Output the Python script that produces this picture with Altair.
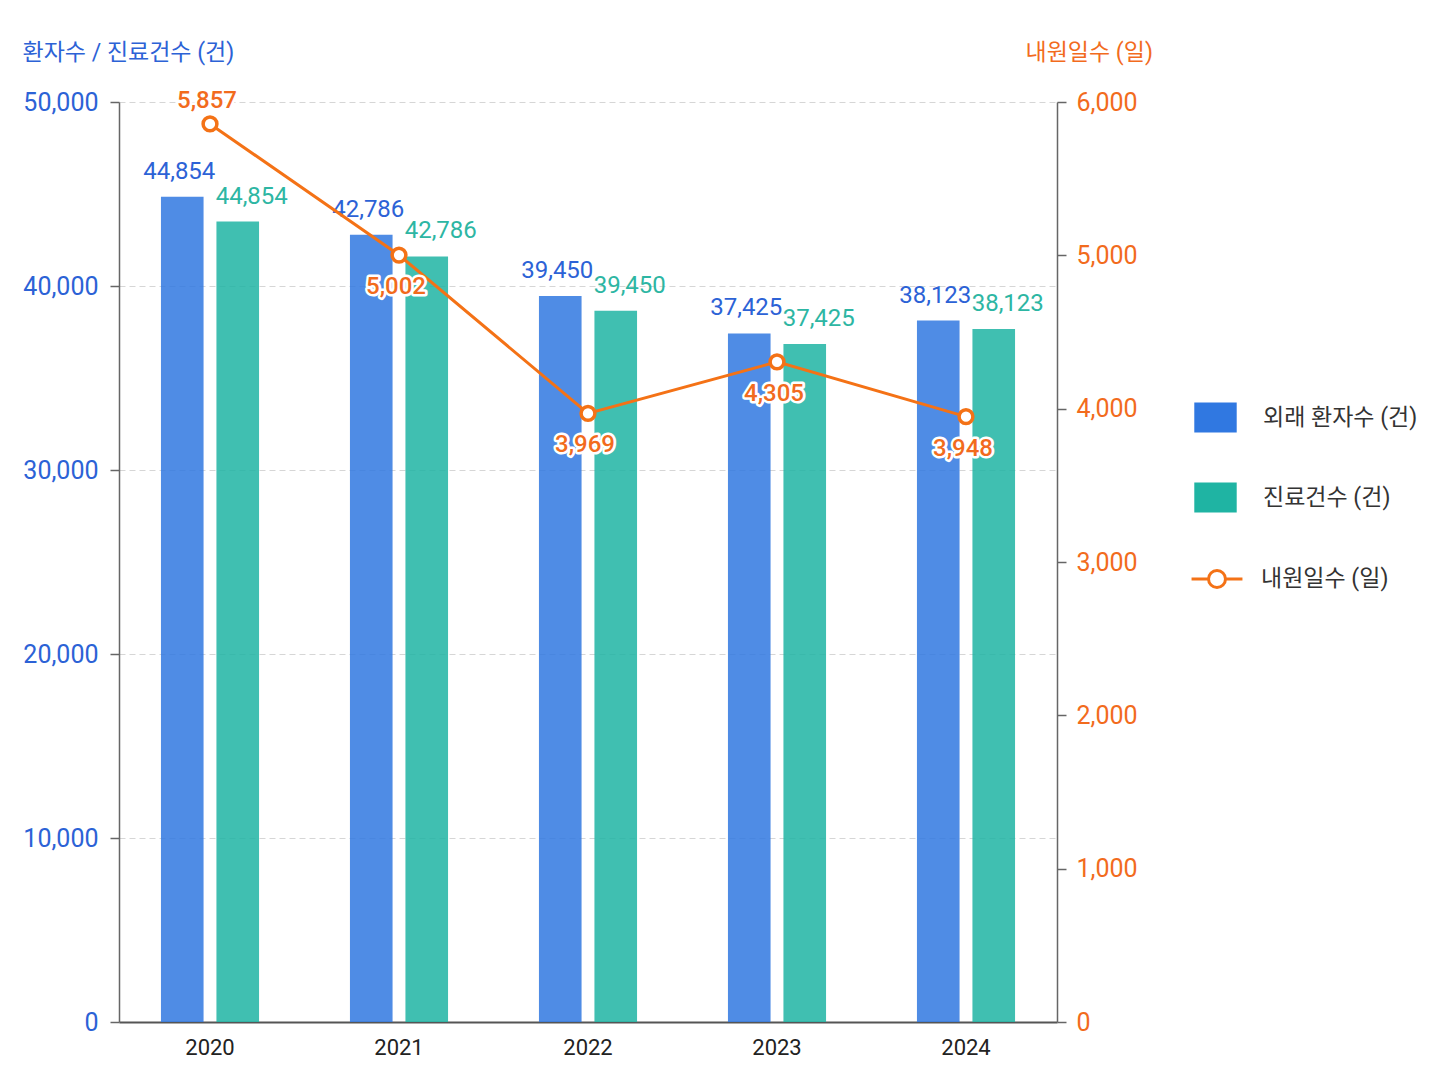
import altair as alt
import pandas as pd

# ---- data ----
years = ["2020", "2021", "2022", "2023", "2024"]
patients = [44854, 42786, 39450, 37425, 38123]          # 외래 환자수 (bar heights = labels)
treat_bar = [43500, 41610, 38660, 36850, 37660]         # 진료건수 bar heights as drawn
treat_label = [44854, 42786, 39450, 37425, 38123]       # 진료건수 labels as printed
visits = [5857, 5002, 3969, 4305, 3948]                 # 내원일수 (일)

S1 = "외래 환자수 (건)"
S2 = "진료건수 (건)"
S3 = "내원일수 (일)"
left_ticks = [0, 10000, 20000, 30000, 40000, 50000]
right_ticks = [0, 1000, 2000, 3000, 4000, 5000, 6000]

bars_df = pd.DataFrame({
    "year": years * 2,
    "series": [S1] * 5 + [S2] * 5,
    "value": patients + treat_bar,
    "label": patients + treat_label,
})
line_df = pd.DataFrame({"year": years, "series": [S3] * 5, "value": visits})

BLUE = "#3078E1"
TEAL = "#1FB4A3"
ORANGE = "#F47216"
BLUE_TXT = "#2C62D6"
TEAL_TXT = "#2DB6A3"
ORANGE_TXT = "#F26B1D"

FONT = "Roboto, 'Noto Sans CJK KR', sans-serif"

RECT_PATH = "M-1,-0.71L1,-0.71L1,0.71L-1,0.71Z"
LINE_PATH = "M-1.2,0L-0.4,0M0.4,0L1.2,0M0.4,0A0.4,0.4,0,1,1,-0.4,0A0.4,0.4,0,1,1,0.4,0Z"

color = alt.Color(
    "series:N",
    scale=alt.Scale(domain=[S1, S2], range=[BLUE, TEAL]),
    legend=alt.Legend(
        title=None, orient="none", legendX=1075, legendY=294, padding=0,
        symbolType=RECT_PATH, symbolSize=1800, symbolStrokeWidth=0, symbolOpacity=1,
        rowPadding=43, labelFontSize=23, labelColor="#333333",
        labelOffset=26, labelLimit=300, labelFont=FONT,
    ),
)
stroke = alt.Stroke(
    "series:N",
    scale=alt.Scale(domain=[S3], range=[ORANGE]),
    legend=alt.Legend(
        title=None, orient="none", legendX=1075, legendY=454, padding=0,
        symbolType=LINE_PATH, symbolSize=1800, symbolStrokeWidth=3,
        symbolFillColor="white", symbolOpacity=1,
        labelFontSize=23, labelColor="#333333",
        labelOffset=21, labelLimit=300, labelFont=FONT,
    ),
)

x = alt.X(
    "year:N",
    scale=alt.Scale(paddingInner=0.481, paddingOuter=0.222),
    axis=alt.Axis(title=None, labelAngle=0, ticks=False, labelFontSize=22,
                  labelColor="#222222", labelPadding=15, domainColor="#555555",
                  domainWidth=2, grid=False),
)
x_off = alt.XOffset("series:N", scale=alt.Scale(domain=[S1, S2], paddingInner=0.232, paddingOuter=0))

y_left = alt.Y(
    "value:Q",
    scale=alt.Scale(domain=[0, 50000], nice=False),
    axis=alt.Axis(
        values=left_ticks, format=",d", title="환자수 / 진료건수 (건)",
        titleAngle=0, titleAlign="left", titleBaseline="middle", titleX=-97, titleY=-50,
        titleFontSize=23, titleFontWeight="normal", titleColor=BLUE_TXT,
        labelColor=BLUE_TXT, labelFontSize=25, labelPadding=12,
        tickSize=9, tickColor="#666666", tickWidth=1.5, domainColor="#666666", domainWidth=1.5,
        grid=True, gridColor="#d6d6d6", gridDash=[6, 4], gridWidth=1,
    ),
)

base_bar = alt.Chart(bars_df)
bars = base_bar.mark_bar(fillOpacity=0.85).encode(x=x, xOffset=x_off, y=y_left, color=color)
blue_labels = base_bar.transform_filter(alt.datum.series == S1).mark_text(
    baseline="alphabetic", dy=-18, dx=-3, fontSize=24, color=BLUE_TXT
).encode(x=x, xOffset=x_off, y="value:Q", text=alt.Text("label:Q", format=",d"))
teal_labels = base_bar.transform_filter(alt.datum.series == S2).mark_text(
    baseline="alphabetic", dy=-18, dx=14, fontSize=24, color=TEAL_TXT
).encode(x=x, xOffset=x_off, y="value:Q", text=alt.Text("label:Q", format=",d"))

bar_layer = alt.layer(bars, blue_labels, teal_labels)

y_right = alt.Y(
    "value:Q",
    scale=alt.Scale(domain=[0, 6000], nice=False),
    axis=alt.Axis(
        orient="right", values=right_ticks, format=",d", title=S3,
        titleAngle=0, titleAlign="left", titleBaseline="middle", titleX=-32, titleY=-50,
        titleFontSize=23, titleFontWeight="normal", titleColor=ORANGE_TXT,
        labelColor=ORANGE_TXT, labelFontSize=25, labelPadding=10,
        tickSize=9, tickColor="#666666", tickWidth=1.5, domainColor="#666666", domainWidth=1.5,
        grid=False,
    ),
)

base_line = alt.Chart(line_df)
line = base_line.mark_line(strokeWidth=3).encode(x=x, y=y_right, stroke=stroke)
points = base_line.mark_point(filled=True, fill="white", stroke=ORANGE, strokeWidth=3.5, size=190, opacity=1).encode(
    x=x, y="value:Q"
)
txt = alt.Text("value:Q", format=",d")
above_halo = base_line.transform_filter(alt.datum.year == "2020").mark_text(
    baseline="alphabetic", dy=-16, dx=-3, fontSize=24, fontWeight=500, color="white",
    stroke="white", strokeWidth=5, strokeJoin="round"
).encode(x=x, y="value:Q", text=txt)
above = base_line.transform_filter(alt.datum.year == "2020").mark_text(
    baseline="alphabetic", dy=-16, dx=-3, fontSize=24, fontWeight=500, color=ORANGE_TXT
).encode(x=x, y="value:Q", text=txt)
below_halo = base_line.transform_filter(alt.datum.year != "2020").mark_text(
    baseline="alphabetic", dy=39, dx=-3, fontSize=24, fontWeight=500, color="white",
    stroke="white", strokeWidth=5, strokeJoin="round"
).encode(x=x, y="value:Q", text=txt)
below = base_line.transform_filter(alt.datum.year != "2020").mark_text(
    baseline="alphabetic", dy=39, dx=-3, fontSize=24, fontWeight=500, color=ORANGE_TXT
).encode(x=x, y="value:Q", text=txt)

line_layer = alt.layer(line, points, above_halo, above, below_halo, below)

chart = (
    alt.layer(bar_layer, line_layer)
    .resolve_scale(y="independent")
    .properties(
        width=938, height=920,
        padding={"left": 111, "top": 94, "right": 370, "bottom": 56},
        autosize=alt.AutoSizeParams(type="none"),
        background="white",
    )
    .configure(font=FONT)
    .configure_view(stroke="transparent")
)

chart.save("out.html", embed_options={"renderer": "svg", "actions": False})
